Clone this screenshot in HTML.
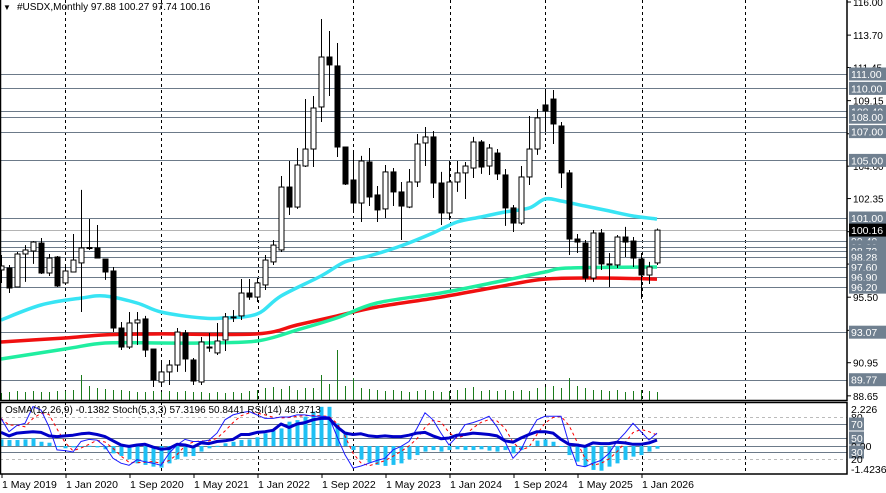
<!DOCTYPE html>
<html><head><meta charset="utf-8"><style>
html,body{margin:0;padding:0;background:#fff;}
svg{display:block;font-family:"Liberation Sans",sans-serif;}
</style></head><body>
<svg id="chart" width="886" height="493" viewBox="0 0 886 493" xmlns="http://www.w3.org/2000/svg">
<rect width="886" height="493" fill="#fff"/>
<g id="grid"></g>
<g id="levels"></g>
<g id="vol"></g>
<g id="mas"></g>
<g id="candles"></g>
<g id="ind"></g>
<g id="axis"></g>
<text x="3" y="10" font-size="8">▼</text>
<text x="17" y="10" font-size="10">#USDX,Monthly  97.88 100.27 97.74 100.16</text>
</svg>
<script>
const opens=[97.39,97.53,96.21,98.50,98.71,99.26,97.18,98.29,96.49,97.25,97.88,98.92,98.92,98.15,97.32,93.36,92.04,93.71,93.99,91.90,89.61,90.31,90.79,93.01,91.14,89.61,92.04,91.63,92.53,94.06,94.20,95.79,95.51,96.35,97.95,98.78,103.15,101.76,104.61,105.79,108.71,112.18,111.56,105.93,103.64,102.04,104.89,102.60,101.63,104.20,102.81,101.76,103.50,106.21,106.63,103.43,101.35,103.50,104.13,104.47,106.28,104.61,105.51,103.99,101.70,100.65,103.85,105.79,108.85,109.26,107.39,104.13,99.54,99.26,96.83,99.96,97.74,97.74,99.68,99.40,98.15,97.04,97.88];
const highs=[98.43,97.74,98.64,99.12,99.40,99.61,98.50,98.36,97.67,99.89,102.95,100.93,100.51,98.15,97.60,93.78,94.47,94.47,94.20,91.90,90.93,91.14,93.36,93.22,91.28,92.74,93.01,93.71,94.40,94.61,96.76,96.76,96.83,98.43,99.47,103.92,104.96,105.86,109.26,109.47,114.82,113.99,113.15,105.93,105.58,105.31,105.86,103.22,104.68,104.47,103.50,104.40,106.83,107.32,107.04,104.20,104.96,104.96,104.89,106.63,106.42,106.14,105.79,104.40,101.90,104.61,108.08,108.57,109.96,109.89,107.67,104.33,99.89,99.47,100.17,100.24,98.57,99.82,100.38,99.68,98.57,97.95,100.27];
const lows=[96.49,95.79,96.21,96.56,97.81,97.11,96.97,96.21,96.42,97.25,94.47,98.78,98.22,96.70,93.08,91.83,91.90,92.18,91.35,89.26,89.40,89.40,90.31,90.31,89.40,89.40,91.70,91.49,91.76,93.78,93.92,95.31,95.17,96.00,97.74,98.64,101.21,101.63,104.54,104.54,107.67,109.47,105.24,103.29,101.35,100.72,101.83,100.72,101.00,101.83,99.47,101.69,103.15,104.61,102.39,100.51,100.86,102.81,102.32,103.78,104.06,103.99,103.64,100.45,100.03,100.51,103.29,105.38,106.97,106.14,103.08,98.43,98.57,96.56,96.56,97.39,96.21,97.53,98.29,97.60,95.38,96.42,97.74];
const closes=[97.67,96.14,98.50,98.78,99.33,97.18,98.22,96.28,97.32,98.08,98.92,98.95,98.22,97.25,93.36,92.04,93.71,93.92,91.83,89.75,90.31,90.79,93.08,91.21,89.68,92.39,91.97,92.46,94.13,94.13,95.79,95.51,96.49,98.08,99.12,103.15,101.76,104.68,105.79,108.64,112.18,111.63,105.93,103.36,102.04,104.96,102.46,101.56,104.20,102.81,101.83,103.50,106.14,106.63,103.43,101.35,103.50,104.13,104.61,106.28,104.54,105.86,104.06,101.70,100.65,103.85,105.79,107.95,108.43,107.53,104.13,99.54,99.33,96.83,99.96,97.81,97.81,99.68,99.33,98.22,97.04,97.60,100.16];
const volumes=[7,8,9,8,9,8,8,9,9,10,25,14,12,11,10,10,9,8,8,9,8,9,8,9,8,8,7,8,7,8,7,9,10,12,13,11,14,10,12,12,25,16,50,14,22,12,11,10,9,10,9,8,9,10,9,8,9,10,12,13,9,10,9,10,9,10,9,12,13,14,12,22,14,12,10,10,9,10,8,9,10,9,8];
const maCyanIdx=[0,5,10,13,17,20,25,28,32,35,40,43,46,50,54,57,60,63,66,68,70,73,76,79,82];
const maCyanVal=[93.92,94.96,95.44,95.58,95.10,94.47,94.06,94.06,94.33,95.58,96.97,97.95,98.36,99.06,99.96,100.72,101.07,101.42,101.69,102.32,102.18,101.83,101.49,101.14,100.93];
const maGreenIdx=[0,8,13,20,25,32,37,42,47,55,62,68,71,82];
const maGreenVal=[91.21,91.90,92.32,92.32,92.32,92.46,93.22,94.06,95.10,95.79,96.56,97.25,97.53,97.60];
const maRedIdx=[0,8,13,20,32,37,42,47,55,62,68,75,82];
const maRedVal=[92.39,92.67,92.88,92.95,92.95,93.57,94.20,94.82,95.51,96.21,96.76,96.83,96.76];
const levelVals=[111.00,110.00,108.40,108.00,107.00,105.00,101.00,99.40,99.00,98.72,98.28,97.60,96.90,96.20,93.07,89.77];
const levelLabels=["111.00","110.00","108.40","108.00","107.00","105.00","101.00","99.40","99.00","98.72","98.28","97.60","96.90","96.20","93.07","89.77"];
const axisTicks=[116.00,113.70,111.45,109.15,106.85,104.60,102.35,100.05,97.80,95.50,93.20,90.95,88.65];
const timeLabels=["1 May 2019","1 Jan 2020","1 Sep 2020","1 May 2021","1 Jan 2022","1 Sep 2022","1 May 2023","1 Jan 2024","1 Sep 2024","1 May 2025","1 Jan 2026"];
const osma=[0.34,0.31,0.31,0.34,0.40,0.22,0.17,-0.03,-0.12,-0.07,-0.03,0.01,-0.07,-0.17,-0.38,-0.52,-0.69,-0.9,-0.98,-1.07,-1.12,-0.9,-0.69,-0.55,-0.52,-0.29,-0.12,0.01,0.14,0.22,0.31,0.34,0.45,0.66,0.79,0.91,1.26,1.34,1.52,1.78,2.03,2.03,1.17,0.74,-0.21,-0.69,-0.86,-0.98,-1.03,-0.98,-0.9,-0.69,-0.47,-0.29,-0.21,-0.29,-0.21,-0.17,-0.21,-0.21,-0.17,-0.24,-0.29,-0.21,-0.38,-0.21,-0.03,0.28,0.34,0.22,-0.03,-0.47,-0.81,-1.07,-1.24,-1.28,-1.07,-0.9,-0.72,-0.55,-0.47,-0.29,-0.14];
const stochMain=[78,59,68,71,95,90,66,33,32,30,45,48,47,38,21,14,11,19,16,14,11,28,40,48,45,45,47,57,76,83,86,88,83,78,78,80,80,83,83,81,81,80,52,26,7,10,14,18,21,33,38,45,64,86,76,57,40,52,69,72,76,81,66,45,21,33,57,76,81,81,81,42,11,9,14,18,28,45,57,71,59,47,57];
const rsi=[58,53,57,58,59,58,53,52,53,54,56,57,55,52,46,40,38,40,41,37,34,35,41,40,37,43,42,45,46,48,55,55,58,59,61,70,65,70,72,76,78,78,66,57,55,56,53,52,53,52,52,54,57,58,53,49,50,54,55,57,56,55,53,46,44,50,55,59,59,57,48,41,40,38,43,42,42,44,43,41,41,43,47];

const NS="http://www.w3.org/2000/svg";
function mk(tag,attrs,parent){const e=document.createElementNS(NS,tag);for(const k in attrs)e.setAttribute(k,attrs[k]);parent.appendChild(e);return e;}
const xAt=i=>1+8*i;
const yP=p=>2+(116-p)*14.4;
const yO=v=>446-v*19.3;
const yR=v=>473-v*0.7;
const G=id=>document.getElementById(id);
const LEVEL="#6c7a89";
const FS=10;

const gx=[65,161,258,353,450,545,642,745];
gx.forEach(x=>{const l=mk('line',{x1:x+0.5,x2:x+0.5,y1:0,y2:474,stroke:'#000','stroke-width':1,'stroke-dasharray':'3,3'},G('grid'));

});

levelVals.forEach((v,k)=>{const y=Math.round(yP(v))+0.5;
const l=mk('line',{x1:0,x2:847,y1:y,y2:y,stroke:LEVEL,'stroke-width':1},G('levels'));

});
{const y=Math.round(yP(100.16))+0.5;const l=mk('line',{x1:0,x2:847,y1:y,y2:y,stroke:'#b4b4b4','stroke-width':1},G('levels'));

}

volumes.forEach((v,i)=>{const x=xAt(i)+0.5;const l=mk('line',{x1:x,x2:x,y1:400,y2:400-v,stroke:'#1a7a1a','stroke-width':1},G('vol'));

});

function maPath(idx,val,color,name){
const pts=idx.map((i,k)=>[xAt(i),yP(val[k])]);
let d='M'+pts[0][0]+','+pts[0][1].toFixed(1);
for(let k=0;k<pts.length-1;k++){const p0=pts[Math.max(0,k-1)],p1=pts[k],p2=pts[k+1],p3=pts[Math.min(pts.length-1,k+2)];
const c1=[p1[0]+(p2[0]-p0[0])/6,p1[1]+(p2[1]-p0[1])/6],c2=[p2[0]-(p3[0]-p1[0])/6,p2[1]-(p3[1]-p1[1])/6];
d+=' C'+c1[0].toFixed(1)+','+c1[1].toFixed(1)+' '+c2[0].toFixed(1)+','+c2[1].toFixed(1)+' '+p2[0]+','+p2[1].toFixed(1);}
const p=mk('path',{d:d,fill:'none',stroke:color,'stroke-width':3.5,'stroke-linejoin':'round'},G('mas'));

}
maPath(maRedIdx,maRedVal,'#f01010','ma-red');
maPath(maGreenIdx,maGreenVal,'#20eea0','ma-green');
maPath(maCyanIdx,maCyanVal,'#38e4f4','ma-cyan');

opens.forEach((o,i)=>{const c=closes[i],x=xAt(i);const g=mk('g',{},G('candles'));


mk('line',{x1:x+0.5,x2:x+0.5,y1:yP(highs[i]),y2:yP(lows[i]),stroke:'#000','stroke-width':1},g);
const top=Math.min(yP(o),yP(c)),h=Math.max(1,Math.abs(yP(o)-yP(c)));
const bull=c>=o;
mk('rect',{x:x-2,y:top,width:5,height:h,fill:bull?'#fff':'#000',stroke:'#000','stroke-width':1},g);});

const ind=G('ind');
[80,20].forEach(v=>{const y=Math.round(yR(v))+0.5;const l=mk('line',{x1:0,x2:847,y1:y,y2:y,stroke:'#bbbbbb','stroke-dasharray':'3,3'},ind);

});
[70,50,30].forEach(v=>{const y=Math.round(yR(v))+0.5;const l=mk('line',{x1:0,x2:847,y1:y,y2:y,stroke:LEVEL},ind);

});
{const l=mk('line',{x1:0,x2:847,y1:446.5,y2:446.5,stroke:LEVEL},ind);

}
osma.forEach((v,i)=>{const x=xAt(i);const y0=446,y1=yO(v);
const r=mk('rect',{x:x-1.5,y:Math.min(y0,y1),width:4,height:Math.max(1,Math.abs(y1-y0)),fill:'#1ec0f4'},ind);

});
const signal=stochMain.map((v,i)=>{const a=stochMain.slice(Math.max(0,i-2),i+1);return a.reduce((s,t)=>s+t,0)/a.length;});
function line(arr,fy,attrs,name){const d=arr.map((v,i)=>(i?'L':'M')+xAt(i)+','+fy(v).toFixed(1)).join(' ');
const p=mk('path',Object.assign({d:d,fill:'none'},attrs),ind);

}
line(signal,yR,{stroke:'#ff0000','stroke-width':1,'stroke-dasharray':'3,3'},'stoch-signal-line');
line(stochMain,yR,{stroke:'#1a1aff','stroke-width':1},'stoch-main-line');
line(rsi,yR,{stroke:'#0000c8','stroke-width':3,'stroke-linejoin':'round'},'rsi-line');
{const t=mk('text',{x:5,y:413,'font-size':FS,fill:'#000'},ind);t.textContent='OsMA(12,26,9) -0.1382  Stoch(5,3,3) 57.3196 50.8441  RSI(14) 48.2713';

}

const ax=G('axis');
mk('rect',{x:0.5,y:-1,width:846.5,height:401.5,fill:'none',stroke:'#000','stroke-width':1.5},ax);
mk('rect',{x:0.5,y:402.5,width:846.5,height:71.5,fill:'none',stroke:'#000','stroke-width':1.5},ax);
axisTicks.forEach(v=>{const y=yP(v);mk('line',{x1:847,x2:851,y1:y,y2:y,stroke:'#000'},ax);
const t=mk('text',{x:853,y:y+4,'font-size':FS,fill:'#000'},ax);t.textContent=v.toFixed(2);

});
levelVals.forEach((v,k)=>{const y=yP(v);const g=mk('g',{},ax);


mk('rect',{x:849,y:y-6.5,width:37,height:13,fill:'#708090'},g);
const t=mk('text',{x:851,y:y+4,'font-size':FS+0.5,fill:'#fff'},g);t.textContent=levelLabels[k];});
{const y=yP(100.16);mk('rect',{x:849,y:y-6.5,width:37,height:13,fill:'#000'},ax);
const t=mk('text',{x:851,y:y+4,'font-size':FS+0.5,fill:'#fff'},ax);t.textContent='100.16';

}
[['2.226',409,null],['80',yR(80),null],['70',yR(70),'b'],['50',yR(50),'b'],['0.00',446,null],['30',yR(30),'b'],['20',yR(20),null],['-1.4236',469,null]].forEach(a=>{
if(a[2]){mk('rect',{x:849,y:a[1]-6.5,width:15,height:13,fill:'#708090'},ax);}
const t=mk('text',{x:851,y:a[1]+4,'font-size':FS+0.5,fill:a[2]?'#fff':'#000'},ax);t.textContent=a[0];

});
timeLabels.forEach((s,k)=>{const x=k===0?2:66+64*(k-1);mk('line',{x1:x,x2:x,y1:474,y2:478,stroke:'#000'},ax);
const t=mk('text',{x:x,y:488,'font-size':FS+0.5,fill:'#000'},ax);t.textContent=s;

});
</script>
</body></html>
